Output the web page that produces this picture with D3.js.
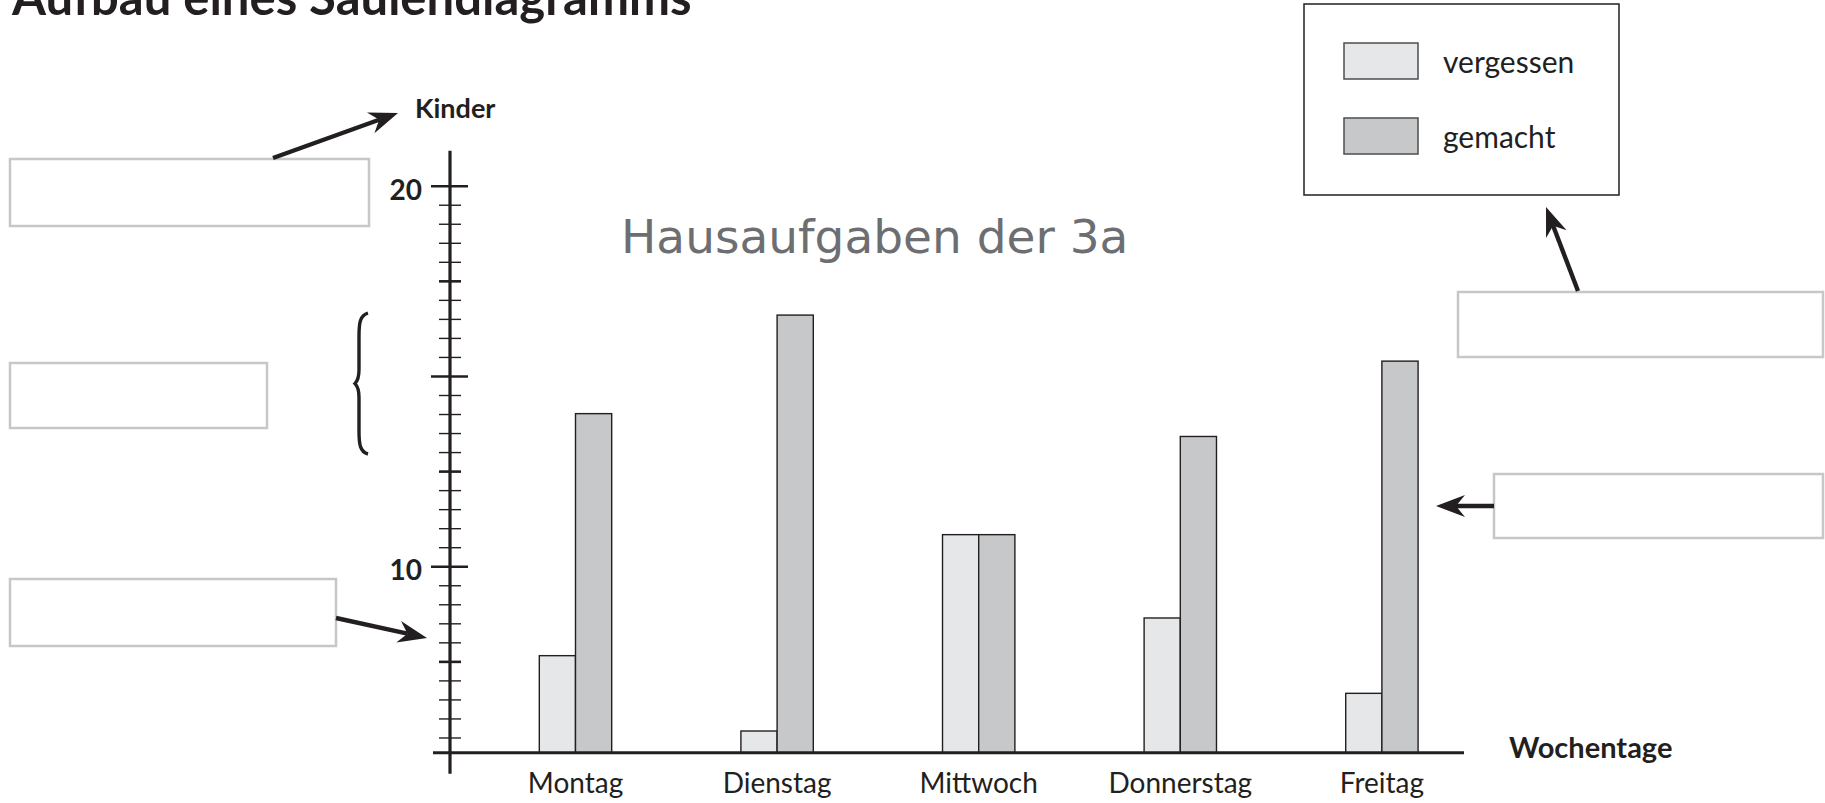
<!DOCTYPE html>
<html>
<head>
<meta charset="utf-8">
<script src="https://cdn.jsdelivr.net/npm/d3@7"></script>
<style>
  body { margin: 0; background: #fff; }
  svg { display: block; font-family: Lato, "Open Sans", sans-serif; }
</style>
</head>
<body>
<svg width="1825" height="803"></svg>
<script>
const days = ["Montag", "Dienstag", "Mittwoch", "Donnerstag", "Freitag"]
const series = ["vergessen", "gemacht"]
const vergessen = [7.65, 5.67, 10.83, 8.64, 6.66]
const gemacht = [14.01, 16.6, 10.83, 13.41, 15.39]
const yTicks = d3.range(5.5, 20.01, 0.5)
const yLabels = [10, 20]
const yMajor = [10, 15, 20]
const yMedium = [7.5, 12.5, 17.5]
const yBase = 5.1

const INK = "#231f20"
const BOX = "#c6c7c9"
const colors = { vergessen: "#e6e7e8", gemacht: "#c7c8ca" }

const svg = d3.select("svg")

const x = d3.scaleBand().domain(days).range([474.7, 1482.7]).paddingInner(0.641).paddingOuter(0.3205)
const xSub = d3.scaleBand().domain(series).range([0, x.bandwidth()])
const y = d3.scaleLinear().domain([yBase, 20]).range([752.7, 185.7])
const axisX = 450

// Überschrift (oben abgeschnitten wie im Arbeitsblatt)
svg.append("text")
  .attr("x", 12).attr("y", 15)
  .style("font", "bold 49px Lato")
  .attr("fill", INK)
  .text("Aufbau eines Säulendiagramms")

svg.append("text")
  .attr("x", 621).attr("y", 253)
  .style("font", "47px 'DejaVu Sans'")
  .attr("fill", "#6d6e71")
  .text("Hausaufgaben der 3a")

// Säulen
const bars = days.flatMap((day, i) => [
  { day, key: "vergessen", value: vergessen[i] },
  { day, key: "gemacht", value: gemacht[i] },
])

svg.append("g")
  .selectAll("rect")
  .data(bars)
  .enter()
  .append("rect")
  .attr("x", (d) => x(d.day) + xSub(d.key))
  .attr("y", (d) => y(d.value))
  .attr("width", xSub.bandwidth())
  .attr("height", (d) => y(yBase) - y(d.value))
  .attr("fill", (d) => colors[d.key])
  .attr("stroke", INK)
  .attr("stroke-width", 1.4)

// Achsen
const yAxis = svg.append("g")
  .attr("transform", `translate(${axisX},0)`)
  .call(d3.axisLeft(y).tickValues(yTicks).tickSize(11).tickFormat((d) => yLabels.includes(d) ? d : ""))
yAxis.select(".domain").remove()
yAxis.selectAll(".tick line")
  .attr("x1", (d) => yMajor.includes(d) ? 18 : 11)
  .attr("x2", (d) => yMajor.includes(d) ? -19 : -11)
  .attr("stroke", INK)
  .attr("stroke-width", (d) => yMajor.includes(d) || yMedium.includes(d) ? 2.6 : 1.4)
yAxis.selectAll(".tick text")
  .attr("x", -28)
  .attr("dy", "0.49em")
  .attr("fill", INK)
  .style("font", "bold 28px Lato")

svg.append("line")
  .attr("x1", axisX).attr("x2", axisX)
  .attr("y1", y(20) - 35).attr("y2", y(yBase) + 21)
  .attr("stroke", INK).attr("stroke-width", 3.2)

const xAxis = svg.append("g")
  .attr("transform", `translate(0,${y(yBase)})`)
  .call(d3.axisBottom(x).tickSize(0))
xAxis.select(".domain").remove()
xAxis.selectAll(".tick text")
  .attr("y", 40)
  .attr("dy", null)
  .attr("fill", INK)
  .style("font", "28px Lato")

svg.append("line")
  .attr("x1", axisX - 17).attr("x2", 1464)
  .attr("y1", y(yBase)).attr("y2", y(yBase))
  .attr("stroke", INK).attr("stroke-width", 3)

svg.append("text")
  .attr("x", 415).attr("y", 118)
  .style("font", "bold 27px Lato")
  .attr("fill", INK)
  .text("Kinder")

svg.append("text")
  .attr("x", 1509).attr("y", 758)
  .style("font", "bold 29px Lato")
  .attr("fill", INK)
  .text("Wochentage")

// Legende
const legend = svg.append("g")
legend.append("rect")
  .attr("x", 1304).attr("y", 4).attr("width", 315).attr("height", 191)
  .attr("fill", "none").attr("stroke", INK).attr("stroke-width", 1.5)
const legendItems = legend.selectAll("g.item")
  .data(series)
  .enter()
  .append("g")
  .attr("transform", (d, i) => `translate(1344,${43 + i * 75})`)
legendItems.append("rect")
  .attr("width", 74).attr("height", 36)
  .attr("fill", (d) => colors[d])
  .attr("stroke", "#4d4d4f").attr("stroke-width", 1.5)
legendItems.append("text")
  .attr("x", 99).attr("y", 30)
  .style("font", "30px Lato")
  .attr("fill", INK)
  .text((d) => d)

// Kästchen zum Ausfüllen
const blanks = [
  [10, 159, 359, 67],
  [10, 363, 257, 65],
  [10, 579, 326, 67],
  [1458, 292, 365, 65],
  [1494, 474, 329, 64],
]
svg.append("g")
  .selectAll("rect")
  .data(blanks)
  .enter()
  .append("rect")
  .attr("x", (d) => d[0]).attr("y", (d) => d[1])
  .attr("width", (d) => d[2]).attr("height", (d) => d[3])
  .attr("fill", "#fff").attr("stroke", BOX).attr("stroke-width", 2.5)

// Pfeile
const arrows = [
  [[273, 158], [398, 113]],
  [[336, 618], [427, 638]],
  [[1578, 291], [1546, 207]],
  [[1494, 506], [1436, 506]],
]
const drawArrow = (tail, tip) => {
  const [len, half, notch] = [29, 11, 9]
  const dx = tip[0] - tail[0]
  const dy = tip[1] - tail[1]
  const dist = Math.hypot(dx, dy)
  const [ux, uy] = [dx / dist, dy / dist]
  const [nx, ny] = [-uy, ux]
  const back = [tip[0] - len * ux, tip[1] - len * uy]
  const inner = [tip[0] - (len - notch) * ux, tip[1] - (len - notch) * uy]
  svg.append("line")
    .attr("x1", tail[0]).attr("y1", tail[1])
    .attr("x2", inner[0]).attr("y2", inner[1])
    .attr("stroke", INK).attr("stroke-width", 4.4)
  svg.append("polygon")
    .attr("points", [tip, [back[0] + half * nx, back[1] + half * ny], inner, [back[0] - half * nx, back[1] - half * ny]].map((p) => p.join(",")).join(" "))
    .attr("fill", INK)
}
arrows.forEach(([tail, tip]) => drawArrow(tail, tip))

// geschweifte Klammer
const braceRange = [16.65, 12.95]
const [bTop, bBot] = braceRange.map(y)
const bMid = (bTop + bBot) / 2
const brace = d3.path()
brace.moveTo(368, bTop)
brace.bezierCurveTo(360, bTop + 2, 359, bTop + 10, 359, bTop + 23)
brace.lineTo(359, bMid - 14)
brace.bezierCurveTo(359, bMid - 6, 357, bMid - 2, 355, bMid)
brace.bezierCurveTo(357, bMid + 2, 359, bMid + 6, 359, bMid + 14)
brace.lineTo(359, bBot - 23)
brace.bezierCurveTo(359, bBot - 10, 360, bBot - 2, 368, bBot)
svg.append("path")
  .attr("d", brace.toString())
  .attr("fill", "none").attr("stroke", INK).attr("stroke-width", 3.4)
</script>
</body>
</html>
